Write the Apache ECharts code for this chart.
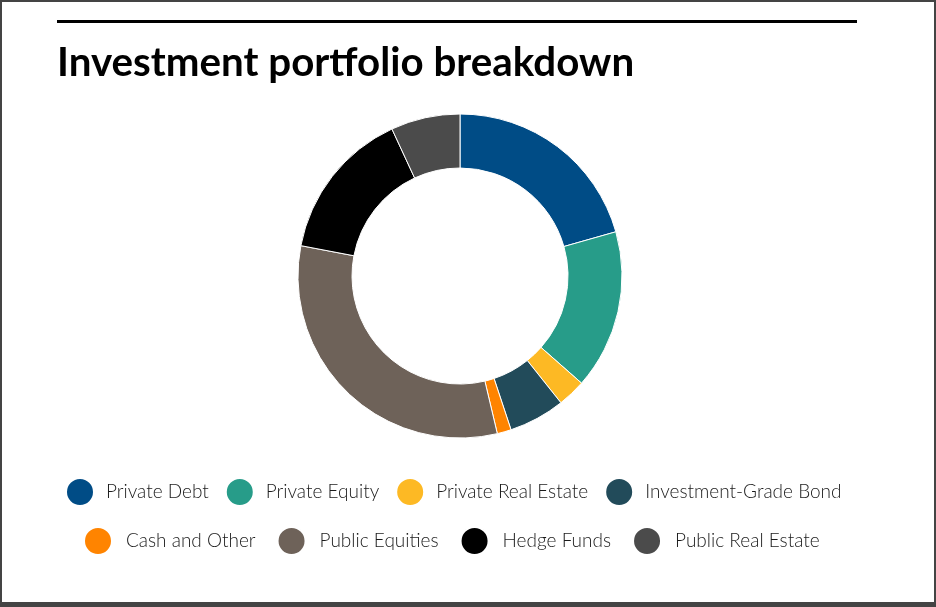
<!DOCTYPE html>
<html>
<head>
<meta charset="utf-8">
<script src="https://cdn.jsdelivr.net/npm/echarts@6/dist/echarts.min.js"></script>
<style>
html,body{margin:0;padding:0;background:#fff;}
#chart{width:936px;height:607px;}
</style>
</head>
<body>
<div id="chart"></div>
<script>
const titleText = "Investment portfolio breakdown";
const categories = ["Private Debt","Private Equity","Private Real Estate","Investment-Grade Bond","Cash and Other","Public Equities","Hedge Funds","Public Real Estate"];
const values = [20.6, 15.9, 2.8, 5.6, 1.4, 31.7, 15.1, 6.9];
const colors = ["#004c86","#279c89","#fdb924","#224b5a","#ff8400","#6e6259","#000000","#4b4b4b"];

const chart = echarts.init(document.getElementById('chart'));
const legendText = {fontFamily:"Lato", fontSize:19, fontWeight:300, color:"#1a1a1a", padding:[0,0,0,7]};
chart.setOption({
  animation:false,
  color: colors,
  title:{text:titleText, left:52, top:38, textStyle:{fontFamily:"Lato", fontWeight:"bold", fontSize:40.3, color:"#000"}},
  legend:[
    {data:categories.slice(0,4), top:477, left:65, padding:0, icon:'circle', itemWidth:28, itemHeight:28, itemGap:16, textStyle:legendText, selectedMode:false},
    {data:categories.slice(4), top:526, left:83, padding:0, icon:'circle', itemWidth:28, itemHeight:28, itemGap:21, textStyle:Object.assign({}, legendText, {padding:[0,0,0,9]}), selectedMode:false}
  ],
  graphic:[
    {type:'rect', shape:{x:57,y:20,width:800,height:3}, style:{fill:'#000'}},
    {type:'rect', shape:{x:0,y:0,width:936,height:2}, style:{fill:'#444'}},
    {type:'rect', shape:{x:0,y:0,width:2,height:607}, style:{fill:'#444'}},
    {type:'rect', shape:{x:934,y:0,width:2,height:607}, style:{fill:'#444'}},
    {type:'rect', shape:{x:0,y:602,width:936,height:5}, style:{fill:'#444'}}
  ],
  series:[{
    type:'pie',
    center:[460,276],
    radius:[108,162],
    startAngle:90,
    clockwise:true,
    label:{show:false},
    labelLine:{show:false},
    itemStyle:{borderColor:'#fff', borderWidth:1},
    emphasis:{disabled:true},
    data: categories.map((c,i)=>({name:c, value:values[i]}))
  }]
});
</script>
</body>
</html>
